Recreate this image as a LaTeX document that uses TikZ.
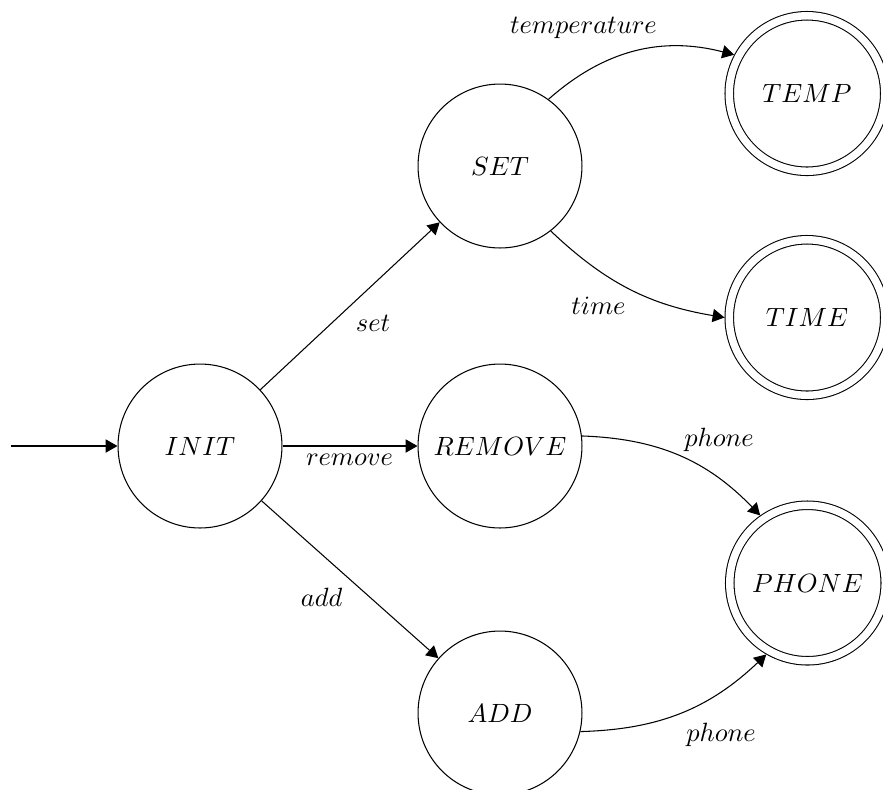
\documentclass[tikz,border=0pt]{standalone}
\usetikzlibrary{arrows.meta}
\begin{document}
\begin{tikzpicture}[x=0.3788pt, y=0.3788pt,
  state/.style={circle, draw, line width=0.4pt, minimum size=62.1pt, inner sep=1pt},
  final/.style={circle, draw, line width=0.4pt, double, double distance=2.82pt,
                minimum size=58.9pt, outer sep=1.8pt, inner sep=1pt},
  trans/.style={-{Triangle[length=4.5pt,width=5pt]}, line width=0.4pt},
  lbl/.style={inner sep=0pt}]
\useasboundingbox (0,0) rectangle (883,-789);
\clip (0,0) rectangle (883,-789);

% states
\node[state] (INIT)   at (200,-446)   {$INIT$};
\node[state] (SET)    at (500,-166)   {$SET$};
\node[state] (REMOVE) at (500,-446)   {$REMOVE$};
\node[state] (ADD)    at (500,-713)   {$ADD$};
\node[final] (TEMP)   at (807,-93.5)  {$TEMP$};
\node[final] (TIME)   at (807,-317.5) {$TIME$};
\node[final] (PHONE)  at (807.5,-583) {$PHONE$};
\coordinate (start) at (11,-446);

% transitions
\draw[trans] (start) -- (INIT);
\draw[trans] (INIT) -- (SET);
\draw[trans] (INIT) -- (REMOVE);
\draw[trans] (INIT) -- (ADD);
\draw[trans] (SET.54) to[bend left=28] (TEMP.152);
\draw[trans] (SET.-52) to[bend right=17] (TIME.180);
\draw[trans] (REMOVE.7) to[bend left=22] (PHONE.125);
\draw[trans] (ADD.-13) to[bend right=21] (PHONE.240);

% transition labels
\node[lbl] (l-set)    at (373,-323.5)   {$set$};
\node[lbl] (l-remove) at (349.5,-460)   {$remove$};
\node[lbl] (l-add)    at (321.7,-597.4) {$add$};
\node[lbl] (l-temp)   at (583.5,-27.5)  {$temperature$};
\node[lbl] (l-time)   at (598.5,-305.5) {$time$};
\node[lbl] (l-phone1) at (719,-440)     {$phone$};
\node[lbl] (l-phone2) at (721,-735)     {$phone$};
\end{tikzpicture}
\end{document}
